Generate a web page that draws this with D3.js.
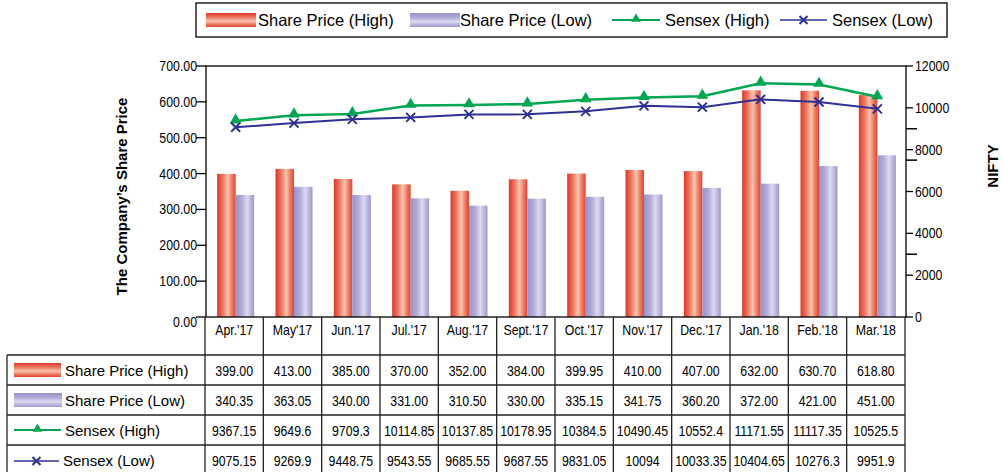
<!DOCTYPE html>
<html>
<head>
<meta charset="utf-8">
<script src="https://cdn.jsdelivr.net/npm/d3@7"></script>
<style>
  body { margin: 0; background: #fff; }
  svg { display: block; font-family: "Liberation Sans", Arial, sans-serif; }
</style>
</head>
<body>
<script>
const categories = ["Apr.'17", "May'17", "Jun.'17", "Jul.'17", "Aug.'17", "Sept.'17", "Oct.'17", "Nov.'17", "Dec.'17", "Jan.'18", "Feb.'18", "Mar.'18"];
const shareHigh = [399.00, 413.00, 385.00, 370.00, 352.00, 384.00, 399.95, 410.00, 407.00, 632.00, 630.70, 618.80];
const shareLow = [340.35, 363.05, 340.00, 331.00, 310.50, 330.00, 335.15, 341.75, 360.20, 372.00, 421.00, 451.00];
const sensexHigh = [9367.15, 9649.6, 9709.3, 10114.85, 10137.85, 10178.95, 10384.5, 10490.45, 10552.4, 11171.55, 11117.35, 10525.5];
const sensexLow = [9075.15, 9269.9, 9448.75, 9543.55, 9685.55, 9687.55, 9831.05, 10094, 10033.35, 10404.65, 10276.3, 9951.9];
const leftTicks = [0, 100, 200, 300, 400, 500, 600, 700];
const rightTicks = [0, 2000, 4000, 6000, 8000, 10000, 12000];
const rightExtraTicks = [3000, 7500, 9000];
const seriesNames = ["Share Price (High)", "Share Price (Low)", "Sensex (High)", "Sensex (Low)"];

const W = 1003, H = 472;
const plot = {left: 206, right: 906, top: 66, bottom: 317};
const greenC = "#00a651", blueC = "#2e3192";

const svg = d3.select("body").append("svg").attr("width", W).attr("height", H);
const defs = svg.append("defs");

function gradient(id, stops, vertical) {
  const g = defs.append("linearGradient").attr("id", id)
    .attr("x1", 0).attr("y1", 0).attr("x2", vertical ? 0 : 1).attr("y2", vertical ? 1 : 0);
  stops.forEach(s => g.append("stop").attr("offset", s[0]).attr("stop-color", s[1]));
}
const redStops = [[0, "#d93a28"], [0.3, "#ec7560"], [0.58, "#f9c4ad"], [0.8, "#ec7a64"], [1, "#de4430"]];
const blueStops = [[0, "#9891c8"], [0.35, "#b3aed8"], [0.62, "#dcdaef"], [0.85, "#b6b1da"], [1, "#9e98cc"]];
gradient("gRed", redStops, false);
gradient("gBlue", blueStops, false);
gradient("gRedV", redStops, true);
gradient("gBlueV", blueStops, true);

const x = d3.scaleBand().domain(categories).range([plot.left - 1, plot.right - 1]);
const yL = d3.scaleLinear().domain([0, 700]).range([plot.bottom, plot.top]);
const yR = d3.scaleLinear().domain([0, 12000]).range([plot.bottom, plot.top]);
const cx = c => x(c) + x.bandwidth() / 2 + 1.5;
const barW = 18.5;

// condensed number text
function ctext(sel, tx, ty, str, anchor, size) {
  return sel.append("text")
    .attr("transform", "translate(" + tx + "," + ty + ") scale(0.85,1)")
    .attr("text-anchor", anchor)
    .style("font-size", size + "px")
    .attr("fill", "#000")
    .text(str);
}

// bars
const bars = svg.append("g");
bars.selectAll(".hi").data(categories).enter().append("rect")
  .attr("x", c => cx(c) - barW).attr("width", barW)
  .attr("y", (c, i) => yL(shareHigh[i])).attr("height", (c, i) => plot.bottom - yL(shareHigh[i]))
  .attr("fill", "url(#gRed)");
bars.selectAll(".lo").data(categories).enter().append("rect")
  .attr("x", c => cx(c)).attr("width", barW)
  .attr("y", (c, i) => yL(shareLow[i])).attr("height", (c, i) => plot.bottom - yL(shareLow[i]))
  .attr("fill", "url(#gBlue)");

// lines
const lineGen = vals => d3.line().x((c) => cx(c)).y((c, i) => yR(vals[i]))(categories);
svg.append("path").attr("d", lineGen(sensexHigh)).attr("fill", "none").attr("stroke", greenC).attr("stroke-width", 2.5);
svg.append("path").attr("d", lineGen(sensexLow)).attr("fill", "none").attr("stroke", blueC).attr("stroke-width", 2);

const tri = d3.symbol().type(d3.symbolTriangle).size(60);
svg.append("g").selectAll("path").data(categories).enter().append("path")
  .attr("d", tri)
  .attr("transform", (c, i) => "translate(" + cx(c) + "," + (yR(sensexHigh[i]) - 1) + ")")
  .attr("fill", greenC);

function xMark(g, px, py, r) {
  g.append("path").attr("d", "M" + (px - r) + "," + (py - r) + "L" + (px + r) + "," + (py + r) +
    "M" + (px - r) + "," + (py + r) + "L" + (px + r) + "," + (py - r))
    .attr("stroke", blueC).attr("stroke-width", 2).attr("fill", "none");
}
const xg = svg.append("g");
categories.forEach((c, i) => xMark(xg, cx(c), yR(sensexLow[i]), 4.5));

// frame
svg.append("rect").attr("x", plot.left).attr("y", plot.top)
  .attr("width", plot.right - plot.left).attr("height", plot.bottom - plot.top)
  .attr("fill", "none").attr("stroke", "#000").attr("stroke-width", 1.3);

// left axis
const la = svg.append("g");
leftTicks.forEach(t => {
  la.append("line").attr("x1", plot.left - 10).attr("x2", plot.left).attr("y1", yL(t)).attr("y2", yL(t))
    .attr("stroke", "#000").attr("stroke-width", 1.3);
  ctext(la, plot.left - 9, yL(t) + 5 + (t === 0 ? 5 : 0), t.toFixed(2), "end", 14.5);
});
svg.append("text")
  .attr("transform", "translate(127," + ((plot.top + plot.bottom) / 2 + 5) + ") rotate(-90)")
  .attr("text-anchor", "middle").style("font-size", "15px").style("font-weight", "bold")
  .text("The Company\u2019s Share Price");

// right axis
const ra = svg.append("g");
rightTicks.forEach(t => {
  ra.append("line").attr("x1", plot.right).attr("x2", plot.right + 7).attr("y1", yR(t)).attr("y2", yR(t))
    .attr("stroke", "#000").attr("stroke-width", 1.3);
  ctext(ra, plot.right + 9, yR(t) + 5, String(t), "start", 14.5);
});
rightExtraTicks.forEach(t => {
  ra.append("line").attr("x1", plot.right).attr("x2", plot.right + 11).attr("y1", yR(t)).attr("y2", yR(t))
    .attr("stroke", "#000").attr("stroke-width", 1.5);
});
svg.append("text")
  .attr("transform", "translate(998,166) rotate(-90)")
  .attr("text-anchor", "middle").style("font-size", "15px").style("font-weight", "bold")
  .text("NIFTY");

// data table
const tbl = svg.append("g");
const rowTops = [355, 385, 415, 445];
const rowH = 30;
const tLeft = 7, colLeft = x.range()[0], colRight = x.range()[1];
const gridC = "#222";
x.domain().concat([null]).forEach((c, i) => {
  const gx = c === null ? colRight : x(c);
  tbl.append("line").attr("x1", gx).attr("x2", gx).attr("y1", plot.bottom).attr("y2", H)
    .attr("stroke", gridC).attr("stroke-width", 1.3);
});
tbl.append("line").attr("x1", tLeft).attr("x2", tLeft).attr("y1", rowTops[0]).attr("y2", H)
  .attr("stroke", gridC).attr("stroke-width", 1.3);
rowTops.forEach(r => {
  tbl.append("line").attr("x1", tLeft).attr("x2", colRight).attr("y1", r).attr("y2", r)
    .attr("stroke", gridC).attr("stroke-width", 1.3);
});
categories.forEach(c => ctext(tbl, x(c) + x.bandwidth() / 2, 335, c, "middle", 14.5));

const rows = [
  {vals: shareHigh, fmt: v => v.toFixed(2)},
  {vals: shareLow, fmt: v => v.toFixed(2)},
  {vals: sensexHigh, fmt: v => String(v)},
  {vals: sensexLow, fmt: v => String(v)}
];
rows.forEach((r, ri) => {
  const mid = rowTops[ri] + rowH / 2;
  categories.forEach((c, i) => ctext(tbl, x(c) + x.bandwidth() / 2, mid + 5.5, r.fmt(r.vals[i]), "middle", 14.5));
  tbl.append("text").attr("x", ri === 3 ? 63 : 65).attr("y", mid + 6)
    .style("font-size", "15px").attr("fill", "#000").text(seriesNames[ri]);
});

// legend keys (shared by table and top legend)
function keyRect(g, kx, ky, w, h, fill) {
  g.append("rect").attr("x", kx).attr("y", ky).attr("width", w).attr("height", h).attr("fill", fill);
}
function keyLine(g, kx, ky, w, kind) {
  g.append("line").attr("x1", kx).attr("x2", kx + w).attr("y1", ky).attr("y2", ky)
    .attr("stroke", kind === "hi" ? greenC : blueC).attr("stroke-width", kind === "hi" ? 2 : 1.6);
  if (kind === "hi") {
    g.append("path").attr("d", d3.symbol().type(d3.symbolTriangle).size(40))
      .attr("transform", "translate(" + (kx + w / 2) + "," + (ky - 1) + ")").attr("fill", greenC);
  } else {
    xMark(g, kx + w / 2, ky, 4);
  }
}
keyRect(tbl, 14, rowTops[0] + 8, 47, 14, "url(#gRedV)");
keyRect(tbl, 14, rowTops[1] + 8, 48, 14, "url(#gBlueV)");
keyLine(tbl, 14, rowTops[2] + rowH / 2, 47, "hi");
keyLine(tbl, 14, rowTops[3] + rowH / 2 + 1, 45, "lo");

// top legend
const lg = svg.append("g");
lg.append("rect").attr("x", 196).attr("y", 3).attr("width", 751).attr("height", 34)
  .attr("fill", "#fff").attr("stroke", "#000").attr("stroke-width", 1.3);
keyRect(lg, 206, 13, 50, 14, "url(#gRedV)");
lg.append("text").attr("x", 258).attr("y", 26).style("font-size", "16.5px").text(seriesNames[0]);
keyRect(lg, 410, 13, 50, 14, "url(#gBlueV)");
lg.append("text").attr("x", 460).attr("y", 26).style("font-size", "16.5px").text(seriesNames[1]);
keyLine(lg, 612, 20, 48, "hi");
lg.append("text").attr("x", 665).attr("y", 26).style("font-size", "16.5px").text(seriesNames[2]);
keyLine(lg, 780, 20, 47, "lo");
lg.append("text").attr("x", 832).attr("y", 26).style("font-size", "16.5px").text(seriesNames[3]);
</script>
</body>
</html>
